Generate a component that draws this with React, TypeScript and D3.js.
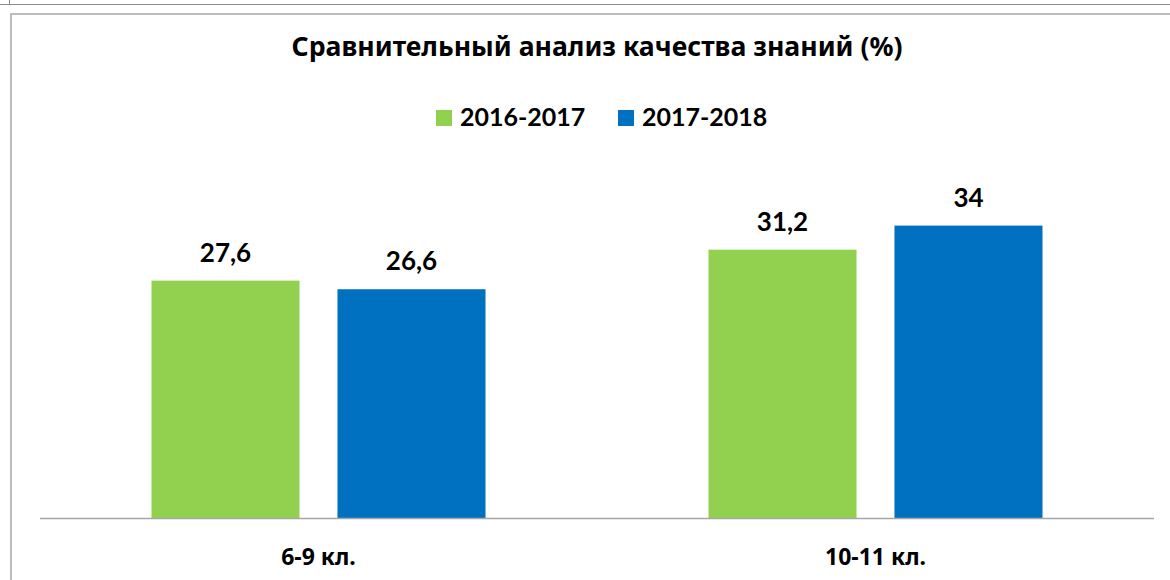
import React from "react";
import { scaleBand, scaleLinear } from "d3";

const categories = ["6-9 кл.", "10-11 кл."];
const seriesNames = ["2016-2017", "2017-2018"];
const values2016 = [27.6, 31.2];
const values2017 = [26.6, 34];
const colors = ["#92d050", "#0070c0"];
const title = "Сравнительный анализ качества знаний (%)";

const W = 1170;
const H = 580;
const font = "Lato, 'Open Sans', sans-serif";
const cyrFont = "'Noto Sans', 'Open Sans', sans-serif";

function App() {
  const seriesValues = [values2016, values2017];

  // plot area
  const left = 40;
  const right = 1154;
  const bottom = 518;
  const top = 174;

  const x0 = scaleBand<string>().domain(categories).range([left, right]).padding(0);
  const groupW = 334;
  const x1 = scaleBand<string>()
    .domain(seriesNames)
    .range([0, groupW])
    .paddingInner(0.204)
    .paddingOuter(0);
  const y = scaleLinear().domain([0, 40]).range([bottom, top]);

  const fmt = (v: number) => String(v).replace(".", ",");

  return (
    <svg
      width={W}
      height={H}
      style={{ position: "absolute", left: 0, top: 0, display: "block", background: "#fff" }}
    >
      {/* outer frame pieces */}
      <line x1={0} x2={W} y1={4.5} y2={4.5} stroke="#8c8c8c" strokeWidth={1} />
      <line x1={9.5} x2={9.5} y1={0} y2={4.5} stroke="#8c8c8c" strokeWidth={1} />
      <rect x={11} y={14} width={W + 10} height={H} fill="#fff" stroke="#a6a6a6" strokeWidth={1.5} />

      <text
        x={597}
        y={56}
        textAnchor="middle"
        fontFamily={cyrFont}
        fontWeight={700}
        fontSize={27}
        textLength={611}
        lengthAdjust="spacingAndGlyphs"
        fill="#000"
      >
        {title}
      </text>

      {/* legend */}
      {[
        { sx: 436, tx: 460 },
        { sx: 618, tx: 642 },
      ].map((p, i) => (
        <g key={seriesNames[i]}>
          <rect x={p.sx} y={110} width={16} height={16} fill={colors[i]} />
          <text x={p.tx} y={126} fontFamily={font} fontWeight={700} fontSize={25} fill="#000">
            {seriesNames[i]}
          </text>
        </g>
      ))}

      {/* bars */}
      {categories.map((c, ci) => {
        const gx = (x0(c) ?? 0) + (x0.bandwidth() - groupW) / 2;
        return (
          <g key={c} transform={`translate(${gx},0)`}>
            {seriesNames.map((s, si) => {
              const v = seriesValues[si][ci];
              const bx = x1(s) ?? 0;
              return (
                <g key={s}>
                  <rect
                    x={bx}
                    y={y(v)}
                    width={x1.bandwidth()}
                    height={bottom - y(v)}
                    fill={colors[si]}
                  />
                  <text
                    x={bx + x1.bandwidth() / 2}
                    y={y(v) - 19}
                    textAnchor="middle"
                    fontFamily={font}
                    fontWeight={700}
                    fontSize={26}
                    fill="#000"
                  >
                    {fmt(v)}
                  </text>
                </g>
              );
            })}
          </g>
        );
      })}

      {/* axis */}
      <line x1={left} x2={right} y1={bottom + 0.5} y2={bottom + 0.5} stroke="#a6a6a6" strokeWidth={1.5} />
      {categories.map((c) => (
        <text
          key={c}
          x={(x0(c) ?? 0) + x0.bandwidth() / 2}
          y={565}
          textAnchor="middle"
          fontFamily={cyrFont}
          fontWeight={700}
          fontSize={23}
          fill="#000"
        >
          {c}
        </text>
      ))}
    </svg>
  );
}

export default App;
